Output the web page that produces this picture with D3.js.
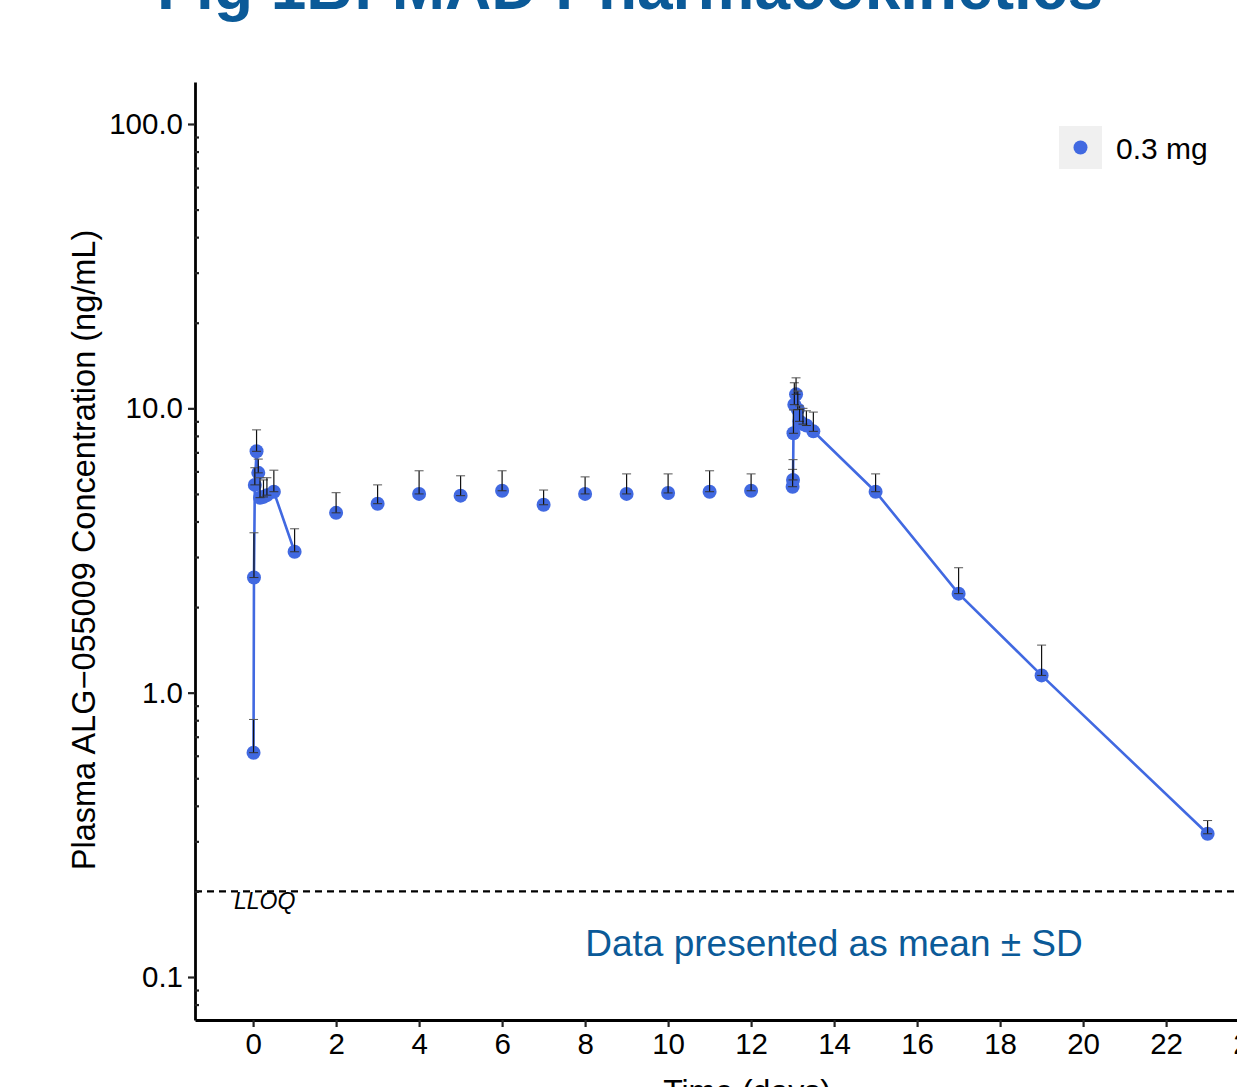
<!DOCTYPE html>
<html>
  <head>
    <meta charset="utf-8">
    <title>MAD Pharmacokinetics</title>
    <script src="https://cdn.jsdelivr.net/npm/d3@7"></script>
    <style>
      body { margin: 0; background: #fff; }
      text { font-family: "Liberation Sans", Arial, sans-serif; }
    </style>
  </head>

  <body>
    <div id="vis"></div>
    <script>
      // day 1 profile (connected)
      var day1Time = [0.0104, 0.0208, 0.0417, 0.0833, 0.125, 0.167, 0.25, 0.333, 0.5, 1]
      var day1Mean = [0.615, 2.54, 5.38, 7.06, 5.93, 4.85, 4.88, 4.95, 5.09, 3.13]
      var day1Sd   = [0.19, 1.11, 0.8, 1.34, 0.7, 0.85, 0.72, 0.75, 0.97, 0.64]

      // daily troughs (points only)
      var troughTime = [2, 3, 4, 5, 6, 7, 8, 9, 10, 11, 12]
      var troughMean = [4.29, 4.62, 5.0, 4.93, 5.13, 4.58, 5.0, 5.0, 5.04, 5.09, 5.13]
      var troughSd   = [0.76, 0.76, 1.03, 0.86, 0.9, 0.58, 0.74, 0.88, 0.84, 0.94, 0.75]

      // last dose profile (connected)
      var day14Time = [13.0, 13.0104, 13.0208, 13.0417, 13.0833, 13.125, 13.167, 13.25, 13.333, 13.5, 15, 17, 19, 23]
      var day14Mean = [5.30, 5.6, 8.17, 10.3, 11.2, 9.9, 9.0, 8.8, 8.7, 8.3, 5.09, 2.23, 1.15, 0.319]
      var day14Sd   = [0.8, 1.0, 1.7, 2.0, 1.6, 1.6, 1.2, 1.2, 1.1, 1.4, 0.79, 0.52, 0.32, 0.036]

      var xTicks = [0, 2, 4, 6, 8, 10, 12, 14, 16, 18, 20, 22, 24]
      var yTicks = [0.1, 1, 10, 100]
      var lloq = 0.2
      var doseLabel = '0.3 mg'

      //////////////////////////////////////////////////////////

      var W = 1237, H = 1087
      var blue = '#4169E1', navy = '#0B5A98'

      var x = d3.scaleLinear().domain([-1.4, 24.6]).range([195, 1274])
      var y = d3.scaleLog().domain([0.0706, 140.5]).range([1020, 82])

      function zip(t, m, s) {
        return t.map(function (d, i) { return { t: d, m: m[i], sd: s[i] }; })
      }
      var d1 = zip(day1Time, day1Mean, day1Sd)
      var tr = zip(troughTime, troughMean, troughSd)
      var d14 = zip(day14Time, day14Mean, day14Sd)
      var all = d1.concat(tr, d14)

      var svg = d3.select('#vis').append('svg')
        .attr('width', W).attr('height', H)

      // title (cut off at top)
      svg.append('text')
        .attr('x', 630).attr('y', 9)
        .attr('text-anchor', 'middle')
        .attr('font-size', 64).attr('font-weight', 'bold')
        .attr('fill', navy)
        .text('Fig 1B: MAD Pharmacokinetics')

      // LLOQ
      svg.append('line')
        .attr('x1', 195).attr('x2', W)
        .attr('y1', y(lloq)).attr('y2', y(lloq))
        .attr('stroke', '#000').attr('stroke-width', 2.4)
        .attr('stroke-dasharray', '7,5')
      svg.append('text')
        .attr('x', 234).attr('y', y(lloq) + 18)
        .attr('font-size', 23).attr('font-style', 'italic')
        .text('LLOQ')

      // lines
      var line = d3.line().x(function (d) { return x(d.t); }).y(function (d) { return y(d.m); })
      ;[d1, d14].forEach(function (g) {
        svg.append('path').datum(g)
          .attr('d', line)
          .attr('fill', 'none').attr('stroke', blue).attr('stroke-width', 2.6)
      })

      // points
      svg.selectAll('circle.pt').data(all).enter()
        .append('circle').attr('class', 'pt')
        .attr('cx', function (d) { return x(d.t); })
        .attr('cy', function (d) { return y(d.m); })
        .attr('r', 7)
        .attr('fill', blue)

      // error bars (mean to mean + SD)
      var eb = svg.selectAll('g.eb').data(all).enter().append('g').attr('class', 'eb')
      eb.append('line')
        .attr('x1', function (d) { return x(d.t); }).attr('x2', function (d) { return x(d.t); })
        .attr('y1', function (d) { return y(d.m); })
        .attr('y2', function (d) { return y(d.m + d.sd); })
        .attr('stroke', '#111').attr('stroke-width', 1.2)
      eb.append('line')
        .attr('x1', function (d) { return x(d.t) - 4.5; }).attr('x2', function (d) { return x(d.t) + 4.5; })
        .attr('y1', function (d) { return y(d.m + d.sd); })
        .attr('y2', function (d) { return y(d.m + d.sd); })
        .attr('stroke', '#555').attr('stroke-width', 1)
      eb.append('line')
        .attr('x1', function (d) { return x(d.t) - 4.5; }).attr('x2', function (d) { return x(d.t) + 4.5; })
        .attr('y1', function (d) { return y(d.m); })
        .attr('y2', function (d) { return y(d.m); })
        .attr('stroke', '#333').attr('stroke-width', 1)

      // axes
      svg.append('g').attr('transform', 'translate(195,0)')
        .call(d3.axisLeft(y).tickValues(yTicks).tickFormat(d3.format('.1f'))
          .tickSize(7).tickSizeOuter(0).tickPadding(5))
      var minor = []
      ;[0.01, 0.1, 1, 10, 100].forEach(function (b) {
        for (var k = 2; k <= 9; k++) {
          var v = b * k
          if (v > y.domain()[0] && v < y.domain()[1]) minor.push(v)
        }
      })
      svg.append('g').attr('transform', 'translate(195,0)')
        .call(d3.axisRight(y).tickValues(minor).tickSize(4).tickFormat(''))
        .call(function (g) { g.select('.domain').remove() })

      svg.append('g').attr('transform', 'translate(0,1020)')
        .call(d3.axisBottom(x).tickValues(xTicks).tickFormat(d3.format('d'))
          .tickSize(7).tickSizeOuter(0).tickPadding(6))

      svg.selectAll('.domain').attr('stroke', '#000').attr('stroke-width', 2.8)
      svg.selectAll('.tick line').attr('stroke', '#222').attr('stroke-width', 2.2)
      svg.selectAll('.tick text').attr('font-size', 29.5).attr('fill', '#000')
        .attr('font-family', '"Liberation Sans", Arial, sans-serif')

      // axis titles
      svg.append('text')
        .attr('transform', 'translate(95,550) rotate(-90)')
        .attr('text-anchor', 'middle')
        .attr('font-size', 32.5)
        .text('Plasma ALG\u2212055009 Concentration (ng/mL)')
      svg.append('text')
        .attr('x', 747).attr('y', 1102)
        .attr('text-anchor', 'middle')
        .attr('font-size', 32)
        .text('Time (days)')

      // note
      svg.append('text')
        .attr('x', 834).attr('y', 956)
        .attr('text-anchor', 'middle')
        .attr('font-size', 37).attr('fill', navy)
        .text('Data presented as mean \u00b1 SD')

      // legend
      svg.append('rect')
        .attr('x', 1059).attr('y', 126).attr('width', 43).attr('height', 43)
        .attr('fill', '#f0f0f0')
      svg.append('circle')
        .attr('cx', 1080.5).attr('cy', 147.5).attr('r', 7).attr('fill', blue)
      svg.append('text')
        .attr('x', 1116).attr('y', 159)
        .attr('font-size', 30)
        .text(doseLabel)
    </script>
  </body>
</html>
